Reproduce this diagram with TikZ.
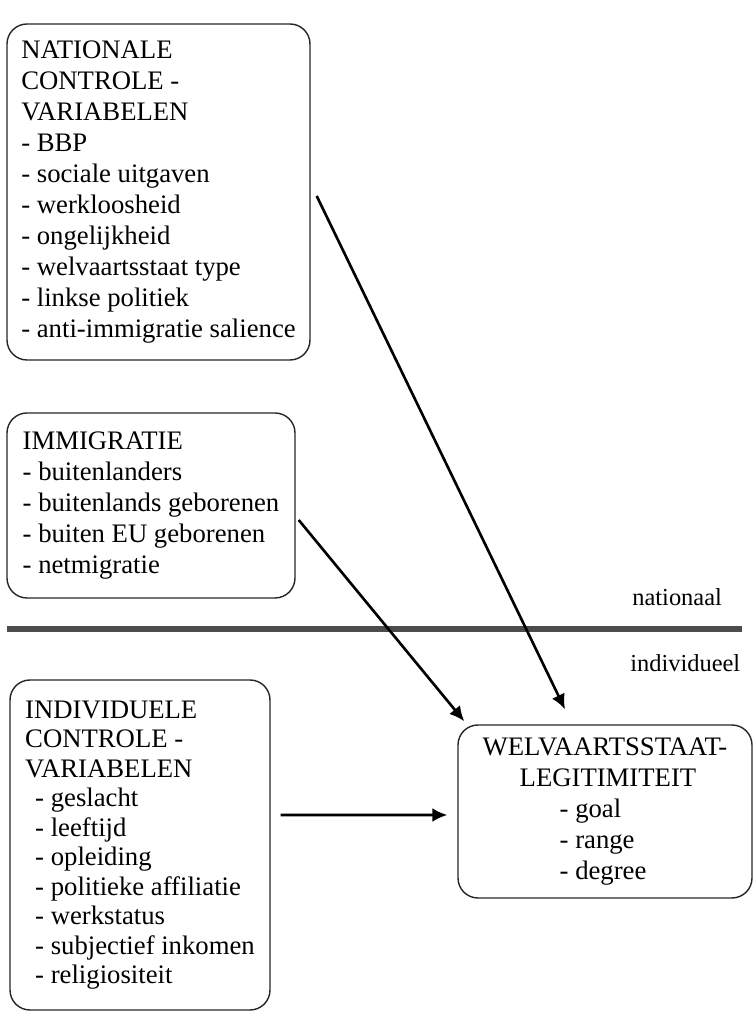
\documentclass[tikz,border=0pt]{standalone}
\usepackage{fontspec}
\setmainfont{Liberation Serif}
\usetikzlibrary{arrows.meta}
\newcommand{\boxfont}{\fontsize{15.2pt}{17.6pt}\selectfont}
\newcommand{\lblfont}{\fontsize{13.9pt}{16pt}\selectfont}
\begin{document}
\begin{tikzpicture}[
  box/.style 2 args={draw=black!85,line width=0.8pt,rounded corners=0.4cm,align=left,
    inner sep=0pt,minimum width=#1,minimum height=#2,font=\boxfont},
  lbl/.style={font=\lblfont,anchor=base west,inner sep=0pt},
  arr/.style={-{Latex[length=3mm,width=2.8mm]},line width=1.5pt}
]
\useasboundingbox (0,0) rectangle (15.08,20.24);
% nationaal niveau
\node[box={6.06cm}{6.72cm}] (nat) at (3.17,16.40) {NATIONALE\\CONTROLE -\\VARIABELEN\\- BBP\\- sociale uitgaven\\- werkloosheid\\- ongelijkheid\\- welvaartsstaat type\\- linkse politiek\\- anti-immigratie salience};
\node[box={5.76cm}{3.70cm}] (imm) at (3.02,10.13) {IMMIGRATIE\\- buitenlanders\\- buitenlands geborenen\\- buiten EU geborenen\\- netmigratie};
\draw[line width=0.11cm,black!70] (0.14,7.66) -- (14.84,7.66);
\node[lbl] (natl) at (12.64,8.12) {nationaal};
\node[lbl] (indl) at (12.60,6.80) {individueel};
% individueel niveau
\node[box={5.2cm}{6.6cm},font=\fontsize{15.2pt}{16.8pt}\selectfont] (ind) at (2.8,3.34) {INDIVIDUELE\\CONTROLE -\\VARIABELEN\\\hspace*{0.2cm}- geslacht\\\hspace*{0.2cm}- leeftijd\\\hspace*{0.2cm}- opleiding\\\hspace*{0.2cm}- politieke affiliatie\\\hspace*{0.2cm}- werkstatus\\\hspace*{0.2cm}- subjectief inkomen\\\hspace*{0.2cm}- religiositeit};
\node[box={5.88cm}{3.46cm}] (wel) at (12.1,4.01) {WELVAARTSSTAAT-\\\hspace*{0.74cm}LEGITIMITEIT\\\hspace*{1.54cm}- goal\\\hspace*{1.54cm}- range\\\hspace*{1.54cm}- degree};
\draw[arr] ([xshift=0.12cm,yshift=-0.08cm]nat.east) -- ([xshift=-0.8cm,yshift=0.3cm]wel.north);
\draw[arr] ([xshift=0.06cm,yshift=-0.29cm]imm.east) -- ([xshift=0.14cm,yshift=0.06cm]wel.north west);
\draw[arr] ([xshift=0.2cm,yshift=0.6cm]ind.east) -- ([xshift=-0.2cm,yshift=-0.07cm]wel.west);
\end{tikzpicture}
\end{document}
